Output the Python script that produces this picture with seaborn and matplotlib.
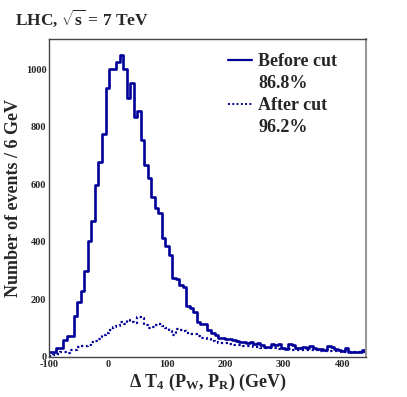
import numpy as np
import pandas as pd
import matplotlib
matplotlib.use("Agg")
import matplotlib.pyplot as plt
import seaborn as sns
from matplotlib.lines import Line2D
from matplotlib.ticker import MultipleLocator

# ---- data (events per 6 GeV bin, from -100 to 440 GeV) ----
bin_edges = list(range(-100, 441, 6))
before_cut = [15, 15, 29, 29, 58, 72, 73, 142, 192, 230,
              300, 403, 473, 598, 677, 776, 935, 1002, 1002, 1025,
              1052, 1001, 902, 952, 833, 856, 755, 666, 621, 557,
              517, 502, 412, 387, 354, 273, 270, 250, 244, 178,
              171, 154, 122, 113, 113, 93, 81, 75, 66, 64,
              62, 60, 58, 55, 52, 50, 48, 52, 44, 48,
              40, 33, 35, 44, 40, 43, 30, 28, 45, 42,
              32, 30, 34, 30, 38, 30, 28, 26, 24, 36,
              35, 27, 22, 20, 30, 18, 18, 17, 17, 24]
after_cut = [3, 5, 8, 17, 17, 12, 22, 24, 33, 36,
             38, 41, 50, 55, 62, 74, 84, 92, 103, 108,
             120, 115, 127, 120, 116, 138, 136, 112, 99, 102,
             112, 114, 106, 100, 88, 76, 98, 94, 88, 82,
             80, 79, 72, 66, 66, 62, 54, 50, 48, 47,
             46, 44, 42, 41, 40, 38, 37, 36, 34, 33,
             32, 31, 30, 30, 29, 28, 27, 27, 26, 25,
             25, 24, 24, 23, 23, 22, 22, 21, 21, 20,
             20, 19, 19, 18, 18, 17, 17, 16, 16, 16]
legend_labels = ["Before cut", "86.8%", "After cut", "96.2%"]

centers = [(a + b) / 2 for a, b in zip(bin_edges[:-1], bin_edges[1:])]
df = pd.DataFrame({"x": centers, "before": before_cut, "after": after_cut})

sns.set_style("white")
plt.rcParams["font.family"] = ["Liberation Serif", "DejaVu Serif"]
plt.rcParams["font.weight"] = "bold"
plt.rcParams["axes.unicode_minus"] = False
plt.rcParams["mathtext.fontset"] = "custom"
plt.rcParams["mathtext.rm"] = "Liberation Serif:bold"
plt.rcParams["mathtext.it"] = "Liberation Serif:bold"
plt.rcParams["mathtext.bf"] = "Liberation Serif:bold"

color = "#000099"
fig = plt.figure(figsize=(4.07, 3.97), dpi=100)
ax = fig.add_axes([0.121, 0.1015, 0.7775, 0.7995])

sns.histplot(data=df, x="x", weights="before", bins=bin_edges, element="step",
             fill=False, color=color, linewidth=1.9, ax=ax)
sns.histplot(data=df, x="x", weights="after", bins=bin_edges, element="step",
             fill=False, color=color, linewidth=1.6, linestyle=(0, (1, 1.2)), ax=ax)

ax.set_xlim(-100, 440)
ax.set_ylim(0, 1105)
ax.xaxis.set_major_locator(MultipleLocator(100))
ax.xaxis.set_minor_locator(MultipleLocator(20))
ax.yaxis.set_major_locator(MultipleLocator(200))
ax.yaxis.set_minor_locator(MultipleLocator(50))
ax.tick_params(axis="both", which="major", direction="in", length=9, width=0.8,
               labelsize=7.5, color="#555555", pad=2)
ax.tick_params(axis="x", which="major", pad=2.5)
ax.tick_params(axis="both", which="minor", direction="in", length=4.5, width=0.8,
               color="#555555")
ax.tick_params(top=False, right=False)
for lab in ax.get_xticklabels() + ax.get_yticklabels():
    lab.set_fontweight("bold")
for sp in ax.spines.values():
    sp.set_linewidth(1.0)
    sp.set_color("#444444")
ax.spines["right"].set_color("#999999")
ax.spines["right"].set_linewidth(1.5)

ax.set_xlabel(r"$\Delta$ T$_4$ (P$_W$, P$_R$) (GeV)", fontsize=13, fontweight="bold", labelpad=2)
ax.set_ylabel("Number of events / 6 GeV", fontsize=13, fontweight="bold", labelpad=3)

fig.text(0.037, 0.955, r"LHC, $\sqrt{s}$ = 7 TeV", fontsize=12.5, fontweight="bold",
         ha="left", va="center")

handles = [Line2D([], [], color=color, lw=1.6),
           Line2D([], [], color="none"),
           Line2D([], [], color=color, lw=1.4, linestyle=(0, (1, 1.2))),
           Line2D([], [], color="none")]
leg = ax.legend(handles, legend_labels, loc="upper left", bbox_to_anchor=(0.565, 0.957),
                frameon=False, fontsize=13, handlelength=1.35, handletextpad=0.33,
                labelspacing=0.28, borderaxespad=0.0, borderpad=0.0)
for t in leg.get_texts():
    t.set_fontweight("bold")

fig.savefig("out.png", dpi=100)
